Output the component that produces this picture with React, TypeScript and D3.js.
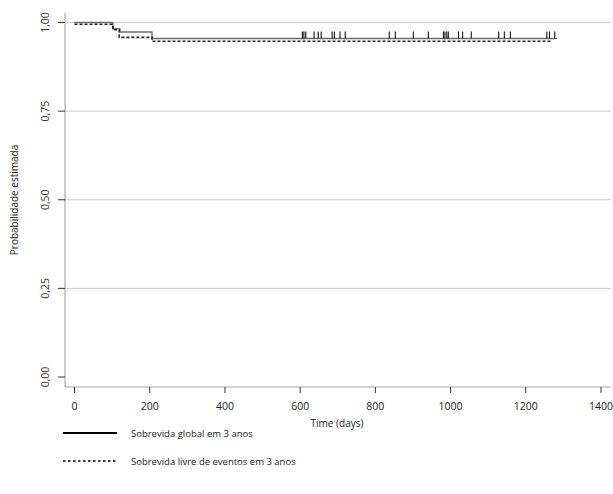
import React from "react";
import * as d3 from "d3";

const osTimes = [0, 102, 121, 206];
const osValues = [1.0, 0.982, 0.973, 0.955];
const osEnd = 1283;
const efsTimes = [0, 102, 119, 206];
const efsValues = [0.995, 0.98, 0.958, 0.947];
const efsEnd = 1269;
const censorTimes = [606, 610, 615, 637, 648, 656, 685, 691, 706, 720, 837, 853, 901, 941, 981, 985, 990, 994, 1021, 1032, 1055, 1128, 1143, 1159, 1256, 1263, 1277];
const xTicks = [0, 200, 400, 600, 800, 1000, 1200, 1400];
const yTicks = [0, 0.25, 0.5, 0.75, 1.0];
const legendLabels = ["Sobrevida global em 3 anos", "Sobrevida livre de eventos em 3 anos"];

const W = 613, H = 494;
const FONT = "'Open Sans', 'Noto Sans', sans-serif";

export default function App() {
  const x = d3.scaleLinear().domain([0, 1400]).range([74.5, 601]);
  const y = d3.scaleLinear().domain([0, 1]).range([377, 22.5]);
  const fmt = (v: number) => d3.format(".2f")(v).replace(".", ",");

  const toPts = (t: number[], v: number[], end: number) => {
    const pts: [number, number][] = t.map((ti, i) => [ti, v[i]]);
    pts.push([end, v[v.length - 1]]);
    return pts;
  };
  const line = d3
    .line<[number, number]>()
    .x((d) => x(d[0]))
    .y((d) => y(d[1]))
    .curve(d3.curveStepAfter);

  const osLast = osValues[osValues.length - 1];
  const axisY = 387;

  return (
    <svg width={W} height={H} style={{ position: "absolute", left: 0, top: 0, background: "#fff" }}>
      <rect x={0} y={0} width={W} height={H} fill="#fff" />
      {yTicks.filter((t) => t > 0).map((t) => (
        <line key={t} x1={65} x2={611} y1={y(t)} y2={y(t)} stroke="#c8c8c8" strokeWidth={1} />
      ))}
      <line x1={65} x2={65} y1={13} y2={axisY} stroke="#a8a8a8" strokeWidth={1.2} />
      {yTicks.map((t) => (
        <g key={t}>
          <line x1={58} x2={65} y1={y(t)} y2={y(t)} stroke="#333" strokeWidth={1} />
          <text
            transform={`translate(${49},${y(t)}) rotate(-90)`}
            textAnchor="middle"
            fontFamily={FONT}
            fontSize={10.5}
            fill="#333"
          >
            {fmt(t)}
          </text>
        </g>
      ))}
      <text
        transform={`translate(${18},${200}) rotate(-90)`}
        textAnchor="middle"
        fontFamily={FONT}
        fontSize={10}
        fill="#222"
      >
        Probabilidade estimada
      </text>
      <line x1={65} x2={611} y1={axisY} y2={axisY} stroke="#a8a8a8" strokeWidth={1.2} />
      {xTicks.map((t) => (
        <g key={t}>
          <line x1={x(t)} x2={x(t)} y1={axisY} y2={axisY + 6} stroke="#333" strokeWidth={1} />
          <text x={x(t)} y={410} textAnchor="middle" fontFamily={FONT} fontSize={10.5} fill="#222">
            {t}
          </text>
        </g>
      ))}
      <text x={337} y={427} textAnchor="middle" fontFamily={FONT} fontSize={10} fill="#222">
        Time (days)
      </text>
      <path d={line(toPts(osTimes, osValues, osEnd)) || ""} fill="none" stroke="#6e6e6e" strokeWidth={1.4} />
      <path d={line(toPts(efsTimes, efsValues, efsEnd)) || ""} fill="none" stroke="#222" strokeWidth={1.6} strokeDasharray="3,2" />
      {censorTimes.map((c, i) => (
        <line key={i} x1={x(c)} x2={x(c)} y1={y(osLast) - 7} y2={y(osLast)} stroke="#111" strokeWidth={1.1} />
      ))}
      <line x1={63} x2={117} y1={433} y2={433} stroke="#000" strokeWidth={2} />
      <text x={131} y={437} fontFamily={FONT} fontSize={9.5} fill="#222">
        {legendLabels[0]}
      </text>
      <line x1={63} x2={117} y1={461} y2={461} stroke="#000" strokeWidth={1.6} strokeDasharray="2.5,2.5" />
      <text x={131} y={465} fontFamily={FONT} fontSize={9.5} fill="#222">
        {legendLabels[1]}
      </text>
    </svg>
  );
}
